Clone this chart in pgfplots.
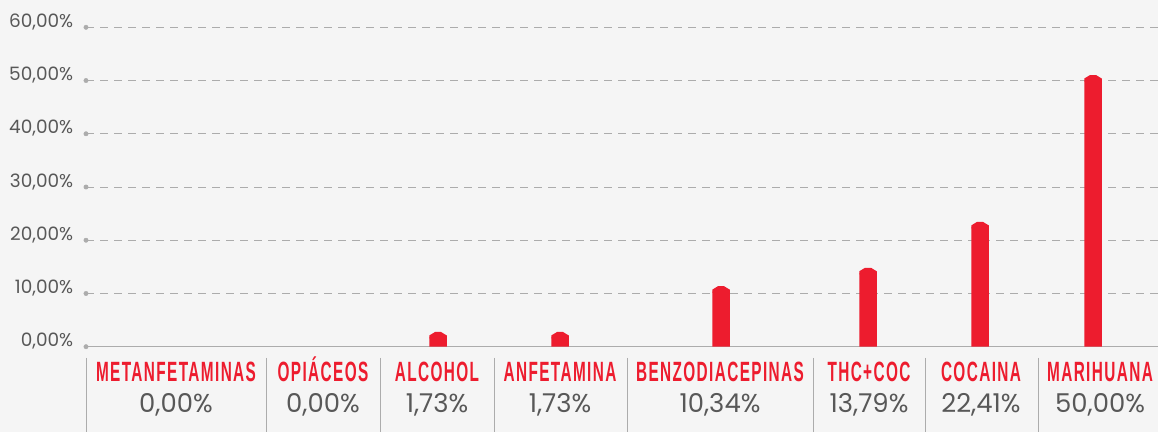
\documentclass[border=0pt]{standalone}
\usepackage{fontspec}
\usepackage{pgfplots}
\pgfplotsset{compat=1.18}
\setmainfont{Poppins}
\newfontfamily\catfont[FakeStretch=0.55,LetterSpace=5.0]{Liberation Sans Bold}
\definecolor{barred}{RGB}{237,28,46}
\definecolor{txtgray}{RGB}{88,88,88}
\definecolor{gridgray}{RGB}{172,172,172}
\definecolor{bggray}{RGB}{245,245,245}

% flat cap on top of each bar
\pgfdeclareplotmark{cap}{%
  \pgfpathmoveto{\pgfqpoint{-8.75bp}{-1bp}}%
  \pgfpathlineto{\pgfqpoint{-8.75bp}{2bp}}%
  \pgfpathlineto{\pgfqpoint{-3bp}{5.5bp}}%
  \pgfpathlineto{\pgfqpoint{3bp}{5.5bp}}%
  \pgfpathlineto{\pgfqpoint{8.75bp}{2bp}}%
  \pgfpathlineto{\pgfqpoint{8.75bp}{-1bp}}%
  \pgfpathclose\pgfusepathqfill}

\begin{document}
\begin{tikzpicture}
  \fill[bggray, use as bounding box] (0,0) rectangle (1158bp,432bp);
  \begin{axis}[
      at={(86bp,85.3bp)}, anchor=south west,
      scale only axis,
      width=1072bp, height=319.4bp,
      xmin=86, xmax=1158, ymin=0, ymax=60,
      clip=false,
      axis x line=bottom, axis y line=left,
      x axis line style={gridgray, line width=0.9pt, -},
      y axis line style={draw=none},
      tick style={draw=none},
      ytick={0,10,...,60},
      ymajorgrids,
      major grid style={gridgray, line width=0.8pt, dash pattern=on 8bp off 6bp},
      yticklabel={\pgfmathprintnumber[fixed,fixed zerofill,precision=2,use comma,assume math mode=true]{\tick}\%},
      yticklabel style={font=\fontsize{18.5}{18.5}\selectfont, text=txtgray, anchor=base east, inner sep=0pt, xshift=-10.5bp},
      xtick={176,323,437,560,720,869,981,1100},
      xticklabels={METANFETAMINAS,OPIÁCEOS,ALCOHOL,ANFETAMINA,BENZODIACEPINAS,THC+COC,COCAINA,MARIHUANA},
      xticklabel style={font=\catfont\fontsize{28}{28}\selectfont, text=barred, anchor=base, inner sep=0pt, yshift=-32.8bp},
      extra x ticks={176,323,437,560,720,869,981,1100},
      extra x tick labels={{0,00\%},{0,00\%},{1,73\%},{1,73\%},{10,34\%},{13,79\%},{22,41\%},{50,00\%}},
      extra x tick style={xticklabel style={font=\fontsize{26}{26}\selectfont, text=txtgray, yshift=-31bp}},
    ]
    \addplot[ybar, bar width=17.5bp, fill=barred, draw=none] coordinates {
      (438,1.73) (560,1.73) (721,10.34) (868,13.79) (980,22.41) (1093,50.00)
    };
    \addplot[only marks, mark=cap, barred] coordinates {
      (438,1.73) (560,1.73) (721,10.34) (868,13.79) (980,22.41) (1093,50.00)
    };
    \addplot[only marks, mark=*, mark size=2.2bp, gridgray] coordinates {
      (86,0) (86,10) (86,20) (86,30) (86,40) (86,50) (86,60)
    };
    \foreach \sx in {86,266,380,494,627,813,925,1038} {
      \edef\tmp{\noexpand\draw[gridgray, line width=0.9pt] (axis cs:\sx,-2.12) -- (axis cs:\sx,-17);}
      \tmp
    }
  \end{axis}
\end{tikzpicture}
\end{document}
